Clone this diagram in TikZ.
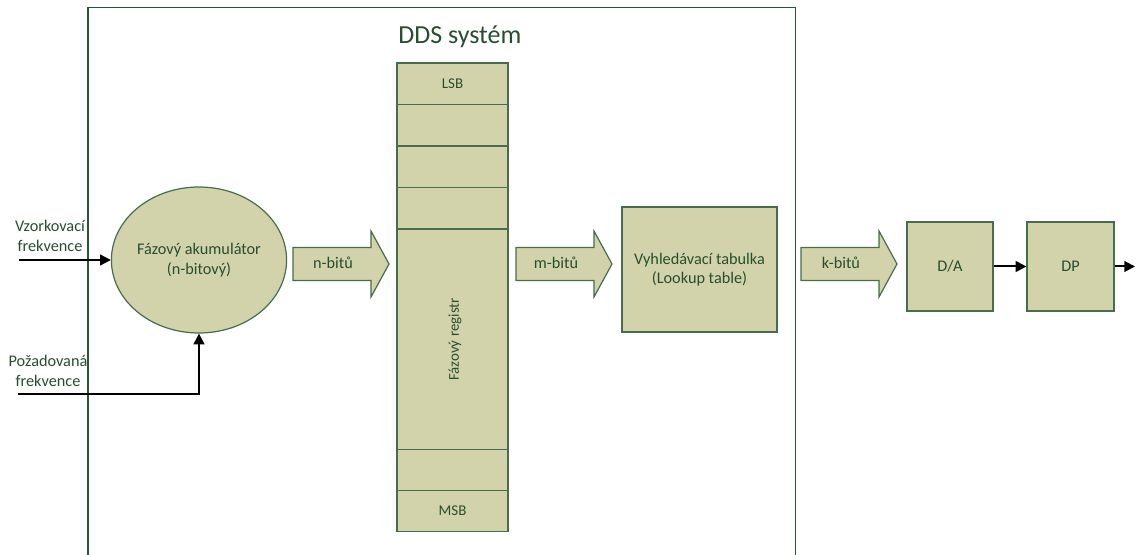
\documentclass[tikz,border=0pt]{standalone}
\usepackage{fontspec}
\setmainfont{Carlito}
\usetikzlibrary{arrows.meta,shapes.geometric,positioning}
\definecolor{boxfill}{RGB}{211,211,171}
\definecolor{boxline}{RGB}{72,108,78}
\definecolor{txtgreen}{RGB}{38,78,48}
\definecolor{frameline}{RGB}{40,85,55}
\tikzset{
  block/.style={draw=boxline, fill=boxfill, line width=0.9pt, text=txtgreen,
    font=\fontsize{12.2}{14.5}\selectfont, align=center, inner sep=0pt},
  cell/.style={block, minimum width=83.25pt, font=\fontsize{11.2}{13}\selectfont},
  fat/.style={draw=boxline, fill=boxfill, line width=0.9pt},
  lbl/.style={text=txtgreen, font=\fontsize{12.2}{14.5}\selectfont, align=center, inner sep=0pt},
  sig/.style={line width=1.5pt, -{Triangle[length=8pt,width=8pt]}},
}
% fat data-path arrow: left x, text, node name
\newcommand\fatarrow[3]{%
  \path[fat] (#1,247.5) -- (#1+78,247.5) -- (#1+78,231) -- (#1+96,264)
    -- (#1+78,297) -- (#1+78,280.5) -- (#1,280.5) -- cycle;
  \node[lbl] (#3) at (#1+40,263) {#2};}
\begin{document}
\begin{tikzpicture}[x=0.75pt,y=-0.75pt]
\useasboundingbox (0,0) rectangle (1141,555);
% DDS system frame (open at the bottom)
\draw[frameline, line width=0.8pt] (88,556) -- (88,7.5) -- (795.5,7.5) -- (795.5,556);
\node[text=txtgreen, font=\fontsize{19.5}{22}\selectfont, anchor=west, inner sep=0pt] (title) at (398,37) {DDS systém};

% phase accumulator
\node[block, ellipse, minimum width=120pt, minimum height=109.5pt] (acc) at (199,260)
  {Fázový akumulátor\\(n-bitový)};

% inputs
\node[lbl] (fs) at (50,236) {Vzorkovací\\frekvence};
\node[lbl] (fout) at (48,371) {Požadovaná\\frekvence};
\coordinate (fsin) at (19,260);
\coordinate (foutin) at (18,394);
\draw[sig] (fsin) -- (acc.west);
\draw[sig] (foutin) -| (acc.south);

% phase register
\node[cell, minimum height=31.125pt] (r1) at (452.5,83.75) {LSB};
\node[cell, minimum height=31.125pt] (r2) at (452.5,125.25) {};
\node[cell, minimum height=31.125pt] (r3) at (452.5,166.75) {};
\node[cell, minimum height=31.125pt] (r4) at (452.5,208.25) {};
\node[cell, minimum height=165.75pt] (r5) at (452.5,339.5) {};
\node[lbl, rotate=90, font=\fontsize{11.2}{13}\selectfont] (regtxt) at (455,339.5) {Fázový registr};
\node[cell, minimum height=30.75pt] (r6) at (452.5,470.25) {};
\node[cell, minimum height=30.75pt] (r7) at (452.5,510.75) {MSB};

% data paths
\fatarrow{293}{n-bitů}{nbits}
\fatarrow{516}{m-bitů}{mbits}
\fatarrow{801}{k-bitů}{kbits}

% lookup table, D/A, low-pass filter
\node[block, minimum width=116.25pt, minimum height=93.75pt] (lut) at (699.5,269.5)
  {Vyhledávací tabulka\\(Lookup table)};
\node[block, minimum width=64.5pt, minimum height=66.75pt] (da) at (950,266.5) {D/A};
\node[block, minimum width=65.25pt, minimum height=66.75pt] (dp) at (1070.5,266.5) {DP};
\coordinate (out) at (1135,266.5);
\draw[sig] (da) -- (dp);
\draw[sig] (dp) -- (out);
\end{tikzpicture}
\end{document}
